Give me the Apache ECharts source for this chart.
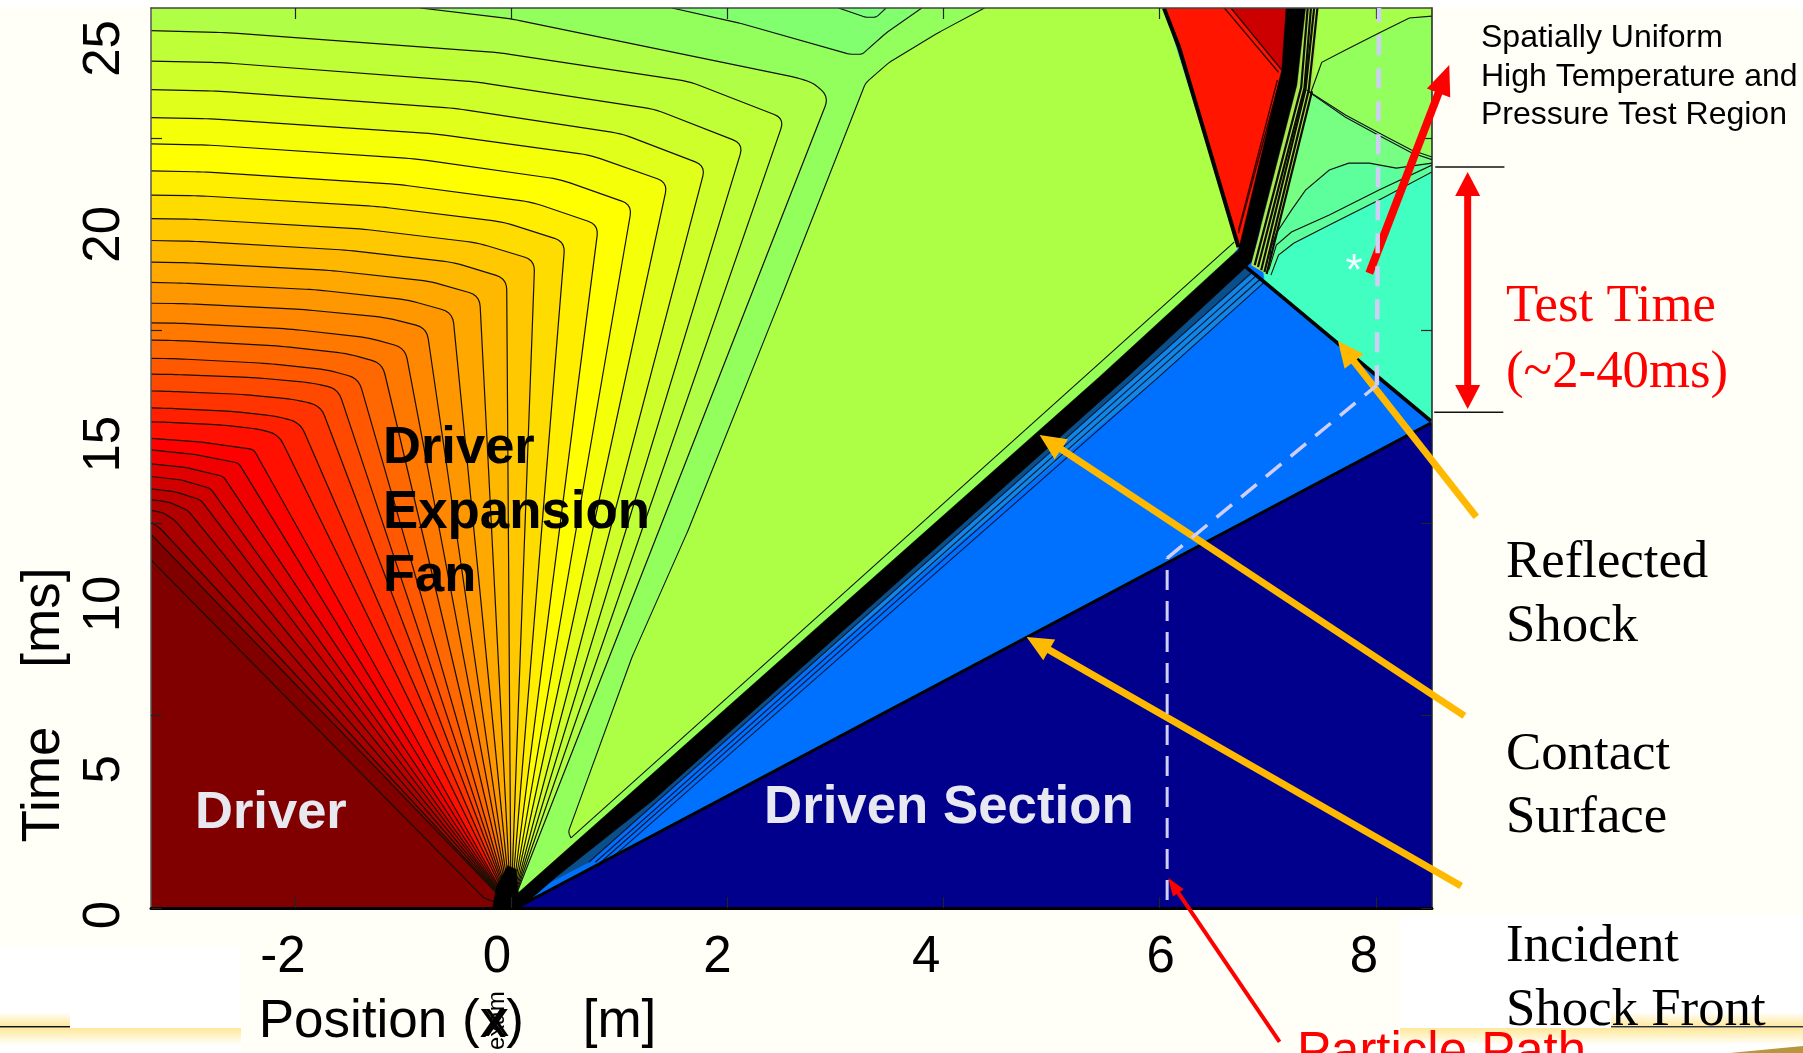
<!DOCTYPE html>
<html><head><meta charset="utf-8">
<style>html,body{margin:0;padding:0;background:#fff}#c{width:1803px;height:1053px}</style>
<script src="https://cdn.jsdelivr.net/npm/echarts@6/dist/echarts.min.js"></script>
</head><body><div id="c"></div>
<script>
// ---- axes ----
const xMin=-3.33, xMax=8.52, tMin=0, tMax=23.38;
const xTicks=[-2,0,2,4,6,8];
const tTicks=[0,5,10,15,20];
const xTickLabels=['-2','0','2','4','6','8'];
const xLabelAt=[-2.11,-0.13,1.91,3.84,6.01,7.89];
const tTickLabels=['0 ','5','10','15','20','25'];
const tLabelAt=[0,3.6,7.9,12.05,17.5,22.33];

// ---- expansion fan contours, [position, time], from the left wall to the corner (rays then run to the origin) ----
const fanOrigin=[0,0];
const fanContours=[
[[-3.33,22.79],[-2.63,22.74],[-0.11,22.22],[1.65,21.47],[2.53,20.51]],
[[-3.33,22.00],[-2.67,21.96],[-0.32,21.46],[1.33,20.75],[2.15,19.85]],
[[-3.33,21.26],[-2.71,21.22],[-0.51,20.77],[1.03,20.11],[1.80,19.28]],
[[-3.33,20.53],[-2.76,20.50],[-0.70,20.11],[0.73,19.56],[1.45,18.85]],
[[-3.33,19.85],[-2.80,19.82],[-0.88,19.46],[0.45,18.93],[1.12,18.27]],
[[-3.33,19.15],[-2.83,19.12],[-1.05,18.80],[0.19,18.34],[0.81,17.75]],
[[-3.33,18.52],[-2.87,18.50],[-1.22,18.22],[-0.07,17.82],[0.50,17.31]],
[[-3.33,17.91],[-2.90,17.89],[-1.38,17.64],[-0.31,17.28],[0.22,16.83]],
[[-3.33,17.34],[-2.93,17.32],[-1.52,17.09],[-0.53,16.77],[-0.04,16.35]],
[[-3.33,16.78],[-2.97,16.76],[-1.66,16.56],[-0.75,16.28],[-0.29,15.91]],
[[-3.33,16.25],[-3.00,16.23],[-1.80,16.06],[-0.96,15.80],[-0.54,15.47]],
[[-3.33,15.71],[-3.02,15.70],[-1.93,15.55],[-1.16,15.34],[-0.78,15.07]],
[[-3.33,15.20],[-3.05,15.19],[-2.04,15.04],[-1.33,14.82],[-0.98,14.55]],
[[-3.33,14.75],[-3.07,14.74],[-2.15,14.60],[-1.51,14.40],[-1.19,14.15]],
[[-3.33,14.28],[-3.10,14.27],[-2.27,14.15],[-1.70,13.98],[-1.41,13.76]],
[[-3.33,13.87],[-3.12,13.86],[-2.38,13.78],[-1.86,13.65],[-1.60,13.49]],
[[-3.33,13.43],[-3.14,13.42],[-2.47,13.34],[-2.00,13.21],[-1.76,13.05]],
[[-3.33,12.99],[-3.16,12.98],[-2.57,12.90],[-2.16,12.77],[-1.95,12.61]],
[[-3.33,12.63],[-3.19,12.62],[-2.68,12.55],[-2.33,12.44],[-2.15,12.30]],
[[-3.33,12.20],[-2.85,12.10],[-2.38,11.91]],
[[-3.33,11.90],[-2.92,11.78],[-2.52,11.56]],
[[-3.33,11.54],[-3.00,11.44],[-2.66,11.21]],
[[-3.33,11.21],[-3.05,11.12],[-2.78,10.90]],
[[-3.33,10.89],[-3.10,10.81],[-2.87,10.60]],
[[-3.33,10.61],[-3.16,10.54],[-2.99,10.33]],
[[-3.33,10.33],[-3.22,10.27],[-3.11,10.07]],
[[-3.33,10.03],[-3.24,9.85]],
[[-3.33,9.71],[-3.19,9.30]],
[[-3.33,9.04],[-0.25,0.26]]
];
const fanColors=['#B0FF46','#BEFF38','#CEFF2A','#E0FF1A','#F5FF08','#FFFF00','#FFEE00','#FFDC00','#FFC800','#FFB800','#FFA800','#FF9800','#FF8800','#FF7800','#FF6800','#FF5800','#FF4800','#FF3400','#FF2000','#FF1000','#FF0000','#F00000','#E00000','#D00000','#C00000','#B00000','#A80000','#980000','#800000'];
const outerContour=[[-0.84,23.38],[0,23.10],[2.66,21.56],[2.80,21.43],[2.94,21.07]];
const fanEdgeUpper=[[4.38,23.38],[3.96,22.75],[3.50,21.97],[3.28,21.43],[2.49,15.79],[1.64,9.82],[1.12,6.52],[0.53,1.97],[0.555,1.82]];
const fanEdgeLower=[[0.555,1.82],[3.006,8.00],[6.69,17.30]];
const topContour=[[1.49,23.38],[2.11,22.99],[3.13,22.18],[3.25,22.18],[3.47,22.73],[3.80,23.38]];
const topPocket=[[3.03,23.38],[3.28,23.14],[3.38,23.14],[3.47,23.38]];

// ---- wave lines ----
const shockFront=[[0.046,0],[8.51,12.60]];
const reflectedShock=[[6.80,16.65],[6.97,16.26],[8.51,12.65]];
const contactBand=[[0.07,0.40],[5.44,13.79],[6.67,16.96],[6.80,16.65],[5.70,13.79],[1.32,2.81],[0.42,0.81],[0.19,0.25],[0.07,0],[-0.17,0],[-0.13,0.6],[-0.03,1.1],[0.05,1.0],[0.06,0.5]];
const contactUpper=[[7.17,23.38],[7.35,23.38],[7.27,21.38],[6.85,16.78],[6.80,16.65],[6.67,16.96],[6.73,17.09],[7.13,21.77]];
const blueStripe=[[0.47,0.91],[5.99,13.79],[6.97,16.26],[6.80,16.65],[0.19,0.42]];
const stippleBand=[[0.19,0.42],[0.72,1.19],[5.77,13.79],[6.86,16.52],[6.80,16.65]];
const stripeLines=[
[[0.72,1.19],[5.77,13.79],[6.86,16.52]],
[[0.78,1.19],[5.84,13.79],[6.90,16.44]],
[[0.83,1.19],[5.91,13.79],[6.94,16.36]],
[[0.91,1.25],[5.99,13.79],[6.97,16.26]]
];
// ---- reflected region ----
const redEdge=[[6.04,23.38],[6.18,22.36],[6.71,17.35],[6.73,17.17]];
const redRegion=[[6.04,23.38],[6.18,22.36],[6.71,17.35],[6.73,17.17],[6.75,17.14],[7.13,21.77],[7.17,23.38]];
const darkRedRegion=[[6.66,23.38],[7.17,23.38],[7.13,21.77]];
const redLines=[[[6.66,23.38],[7.13,21.77]],[[6.60,23.38],[7.10,21.71]],[[7.12,21.58],[6.73,17.53]],[[7.09,21.51],[6.73,17.61]]];
const testRegion=[[6.97,16.26],[8.52,12.65],[8.52,23.38],[6.80,23.38]];
const upperZone=[[7.35,23.38],[8.52,23.38],[8.52,19.51],[8.33,19.69],[8.03,20.13],[7.72,20.60],[7.36,21.25],[7.27,21.38]];
const cornerZone=[[7.45,23.38],[8.52,23.38],[8.52,23.17],[8.31,23.12],[8.03,22.73],[7.72,22.29],[7.50,21.97],[7.45,21.58],[7.40,21.19]];
const cornerLine=[[8.52,23.17],[8.31,23.12],[8.03,22.73],[7.72,22.29],[7.50,21.97],[7.45,21.58],[7.40,21.19]];
const splitLineA=[[7.36,21.25],[7.72,20.60],[8.03,20.13],[8.33,19.69],[8.52,19.51]];
const splitLineB=[[7.38,21.20],[7.72,20.54],[8.03,20.07],[8.33,19.62],[8.52,19.44]];
const zoneLineA=[[8.52,19.35],[8.19,19.22],[7.94,19.35],[7.75,19.35],[7.57,19.17],[7.35,18.65],[7.22,18.13],[7.08,17.53],[7.03,17.14],[7.01,16.65]];
const zoneLineB=[[8.52,19.30],[8.03,18.65],[7.57,18.00],[7.22,17.56],[7.08,17.22],[7.01,16.57]];
const zoneLineC=[[8.52,19.12],[8.03,18.39],[7.57,17.74],[7.24,17.27],[7.10,16.96],[7.03,16.44]];
const paleStripe=[[7.35,23.38],[7.47,23.38],[7.41,21.22],[6.99,16.47],[6.85,16.70],[7.27,21.38]];
const paleLines=[
[[7.37,23.38],[7.31,21.32],[6.88,16.70]],
[[7.40,23.38],[7.34,21.30],[6.91,16.65]],
[[7.43,23.38],[7.35,21.27],[6.94,16.57]],
[[7.46,23.38],[7.38,21.25],[6.97,16.52]],
[[7.41,21.22],[6.99,16.47]]
];
// ---- annotations ----
const reflectedArrow=[[8.93,10.16],[7.65,14.73]];
const contactArrow=[[8.82,4.99],[4.89,12.29]];
const incidentArrow=[[8.79,0.57],[4.77,7.04]];
const particleArrow=[[7.11,-3.48],[6.08,0.78]];
const regionArrow=[[7.94,16.49],[8.68,21.90]];
const testTimeArrow=[[8.85,19.12],[8.85,12.96]];
const testTimeTop=[[8.55,19.25],[9.19,19.25]];
const testTimeBottom=[[8.54,12.88],[9.18,12.88]];
const pathLow=[[6.07,0.21],[6.07,9.09]];
const pathMid=[[6.07,9.09],[8.01,13.58]];
const pathHigh=[[8.01,13.58],[8.03,23.38]];
const samplePoint=[7.80,16.57];

// ---- build the drawing list ----
const shapes=[];
const fill=(pts,color,close,r)=>shapes.push({pts,fill:color,close:close||[],r:r||0});
const line=(pts,w,color,r,dash)=>shapes.push({pts,stroke:color||'#111',w:w||1,r:r||0,dash});
const BL=[xMin,0],TL=[xMin,tMax];
fill([[xMin,0],[xMax,0],[xMax,tMax],[xMin,tMax]],'#00008C');
fill([[0.046,0],[8.52,12.60],[8.52,tMax],[xMin,tMax],[xMin,0]],'#0070FF');
fill(blueStripe,'#1286E4');
fill(stippleBand,'#0B4F8A');
stripeLines.forEach(l=>line(l,1.2,'#041a3e'));
fill(testRegion,'#40FFC0');
fill(upperZone,'#92FF5C');
fill(cornerZone,'#A6FF4A');
fill(splitLineA.concat([[8.52,19.35],[8.19,19.22],[7.94,19.35],[7.75,19.35],[7.57,19.17],[7.35,18.65],[7.22,18.13],[7.08,17.53],[7.03,17.14],[7.01,16.65],[6.85,16.78]]),'#76FF82');
fill(zoneLineA.concat(zoneLineC.slice().reverse()),'#5CFF9C');
fill([[0.06,0.3],[5.44,13.79],[6.67,16.96],[6.73,17.17],[6.04,23.38],[xMin,tMax],[xMin,0]],'#ADFF45');
fill(fanEdgeLower.concat([[6.67,16.96],[5.44,13.79],[0.07,0.4]]),'#96FF55');
fill(redRegion,'#FF1500');
fill(darkRedRegion,'#CC0000');
redLines.forEach(l=>line(l,1.3,'#300'));
fill(paleStripe,'#AEE850');
paleLines.forEach(l=>line(l,2.2,'#0c0c00'));
line(cornerLine,1.1);line(splitLineA,1.1);line(splitLineB,1.1);
line(zoneLineA,1.1);line(zoneLineB,1.1);line(zoneLineC,1.1);

// fan, outermost first
fill(fanEdgeUpper.concat([[0.07,0.4],fanOrigin,BL,TL]),'#92FF5C',[],0);
fill(topContour,'#82FF6E');
fill(topPocket,'#7AFF78');
fill(outerContour.concat([fanOrigin]),fanColors[0],[BL,TL],10);
fanContours.forEach((c,i)=>fill(c.concat([fanOrigin]),fanColors[i+1]||'#800000',[BL],i<19?11:4));
line(topContour,1.1,'#111',3);line(topPocket,1.1,'#111',3);
line(outerContour.concat([fanOrigin]),1.2,'#111',10);
fanContours.forEach((c,i)=>line(c.concat([fanOrigin]),1.2,'#151005',i<19?11:4));
line(fanEdgeUpper,1.1,'#111',4);line(fanEdgeLower,1.1,'#111');
fill(contactBand,'#000');
fill(contactUpper,'#000');
line(shockFront,3,'#000');
line(reflectedShock,3.6,'#000');
line(redEdge,4,'#000');

function rounded(p,r){
  if(!r||p.length<3)return p;
  const out=[p[0]];
  for(let i=1;i<p.length-1;i++){
    const A=p[i],B=p[i-1],C=p[i+1];
    const d1=Math.hypot(A[0]-B[0],A[1]-B[1]),d2=Math.hypot(A[0]-C[0],A[1]-C[1]);
    const rr=Math.min(r,d1/2,d2/2);
    const a=[A[0]+(B[0]-A[0])/d1*rr,A[1]+(B[1]-A[1])/d1*rr],b=[A[0]+(C[0]-A[0])/d2*rr,A[1]+(C[1]-A[1])/d2*rr];
    for(let k=0;k<=5;k++){const s=k/5,q=1-s;out.push([q*q*a[0]+2*q*s*A[0]+s*s*b[0],q*q*a[1]+2*q*s*A[1]+s*s*b[1]]);}
  }
  out.push(p[p.length-1]);return out;
}
function renderShape(params,api){
  const s=shapes[api.value(0)];
  const pts=rounded(s.pts.map(p=>api.coord(p)),s.r);
  if(s.fill){
    const all=pts.concat(s.close.map(p=>api.coord(p)));
    return {type:'polygon',z2:api.value(0),silent:true,shape:{points:all},style:{fill:s.fill,stroke:s.fill,lineWidth:0.5}};
  }
  return {type:'polyline',z2:api.value(0),silent:true,shape:{points:pts},style:{fill:null,stroke:s.stroke,lineWidth:s.w,lineDash:s.dash||null}};
}
const arrows=[
 {pts:reflectedArrow,color:'#FFB900',w:7,hl:26,hw:24},
 {pts:contactArrow,color:'#FFB900',w:7,hl:26,hw:24},
 {pts:incidentArrow,color:'#FFB900',w:7,hl:26,hw:24},
 {pts:particleArrow,color:'#FF0000',w:4,hl:18,hw:13},
 {pts:regionArrow,color:'#FF0000',w:8,hl:30,hw:25},
 {pts:testTimeArrow,color:'#FF0000',w:7,hl:24,hw:25,both:true},
 {pts:testTimeTop,color:'#111',w:1.6,line:true},
 {pts:testTimeBottom,color:'#111',w:1.6,line:true},
 {pts:pathLow,color:'#CFCFF5',w:3,dash:[20,11]},
 {pts:pathMid,color:'#CFCFF5',w:3.5,dash:[20,12]},
 {pts:pathHigh,color:'#CFCFF5',w:4.5,dash:[20,13]}
];
function head(tip,from,l,w,color){
  const d=Math.hypot(tip[0]-from[0],tip[1]-from[1]),ux=(tip[0]-from[0])/d,uy=(tip[1]-from[1])/d;
  const bx=tip[0]-ux*l,by=tip[1]-uy*l;
  return {type:'polygon',shape:{points:[tip,[bx-uy*w/2,by+ux*w/2],[bx+uy*w/2,by-ux*w/2]]},style:{fill:color}};
}
function renderArrow(params,api){
  const a=arrows[api.value(0)];
  const A=api.coord(a.pts[0]),B=api.coord(a.pts[1]);
  const kids=[];
  const d=Math.hypot(B[0]-A[0],B[1]-A[1]),ux=(B[0]-A[0])/d,uy=(B[1]-A[1])/d;
  const end=a.hl?[B[0]-ux*a.hl*0.8,B[1]-uy*a.hl*0.8]:B;
  const st=a.both?[A[0]+ux*a.hl*0.8,A[1]+uy*a.hl*0.8]:A;
  kids.push({type:'line',shape:{x1:st[0],y1:st[1],x2:end[0],y2:end[1]},style:{stroke:a.color,lineWidth:a.w,lineDash:a.dash||null}});
  if(a.hl){kids.push(head(B,A,a.hl,a.hw,a.color));if(a.both)kids.push(head(A,B,a.hl,a.hw,a.color));}
  return {type:'group',silent:true,children:kids};
}
const T=(text,x,y,size,fam,color,weight,extra)=>Object.assign({type:'text',z:100,silent:true,x,y,style:{text,fontFamily:fam,fontSize:size,fill:color,fontWeight:weight||'normal',textVerticalAlign:'middle',verticalAlign:'middle'}},extra||{});
const SANS='"Liberation Sans"',SERIF='"Liberation Serif"';
const grad=(a,b)=>new echarts.graphic.LinearGradient(0,0,0,1,[{offset:0,color:a},{offset:1,color:b}]);
const rect=(x,y,w,h,f,z)=>({type:'rect',z:z===undefined?-5:z,silent:true,shape:{x,y,width:w,height:h},style:{fill:f}});
const chart=echarts.init(document.getElementById('c'),null,{renderer:'canvas'});
const axisBase={type:'value',z:10,splitLine:{show:false},axisLine:{show:true,onZero:false},axisLabel:{show:false}};
const tickStyle=(vals)=>({show:true,inside:true,length:11,customValues:vals,lineStyle:{color:'#222',width:1.2}});
chart.setOption({
 animation:false,
 backgroundColor:'#FFFFF8',
 grid:{left:151,right:371,top:8,bottom:145,containLabel:false,outerBoundsMode:'none'},
 xAxis:[
  Object.assign({},axisBase,{position:'bottom',min:xMin,max:xMax,
    name:'Position (x)    [m]',nameLocation:'middle',nameGap:88,
    nameTextStyle:{fontFamily:SANS,fontSize:53,color:'#000',padding:[0,668,0,0]},
    axisLine:{show:true,onZero:false,lineStyle:{color:'#000',width:3}},axisTick:tickStyle(xTicks),
    axisLabel:{show:true,customValues:xLabelAt,margin:24,fontFamily:SANS,fontSize:51,color:'#000',formatter:(v,i)=>xTickLabels[xLabelAt.indexOf(v)]}}),
  Object.assign({},axisBase,{position:'top',min:xMin,max:xMax,axisLine:{show:true,onZero:false,lineStyle:{color:'#444',width:1.5}},axisTick:tickStyle(xTicks)})
 ],
 yAxis:[
  Object.assign({},axisBase,{position:'left',min:tMin,max:tMax,
    name:'Time    [ms]',nameLocation:'middle',nameGap:79,
    nameTextStyle:{fontFamily:SANS,fontSize:53,color:'#000',padding:[0,494,0,0]},
    axisLine:{show:true,onZero:false,lineStyle:{color:'#555',width:1.5}},axisTick:tickStyle(tTicks),
    axisLabel:{show:true,customValues:tLabelAt,rotate:90,margin:21,fontFamily:SANS,fontSize:51,color:'#000',formatter:(v)=>tTickLabels[tLabelAt.indexOf(v)]}}),
  Object.assign({},axisBase,{position:'right',min:tMin,max:tMax,axisLine:{show:true,onZero:false,lineStyle:{color:'#222',width:1.5}},axisTick:tickStyle(tTicks)})
 ],
 series:[
  {type:'custom',coordinateSystem:'cartesian2d',xAxisIndex:0,yAxisIndex:0,clip:true,silent:true,z:2,renderItem:renderShape,data:shapes.map((_,i)=>[i])},
  {type:'custom',coordinateSystem:'cartesian2d',xAxisIndex:0,yAxisIndex:0,clip:false,silent:true,z:20,renderItem:renderArrow,data:arrows.map((_,i)=>[i])},
  {type:'custom',coordinateSystem:'cartesian2d',xAxisIndex:0,yAxisIndex:0,clip:false,silent:true,z:21,
   renderItem:(p,api)=>{const c=api.coord(samplePoint);return {type:'text',x:c[0],y:c[1]+3,style:{text:'*',fontFamily:SANS,fontSize:44,fill:'#EFFFFF',align:'center',verticalAlign:'middle'}};},data:[[0]]}
 ],
 graphic:{elements:[
  rect(0,0,1803,8,'#FFFFFF'),
  rect(0,947,241,106,'#FFFFFF'),
  rect(1400,916,403,137,'#FFFFFF'),
  rect(0,1012,70,15,grad('#FFFFFF','#FFE898'),-4),
  rect(0,1026,70,1.5,'#111',-3),
  rect(0,1028,241,17,grad('#FFE898','#FFFFFF'),-4),
  rect(1400,1028,403,17,grad('#FFE898','#FFFFFF'),-4),
  rect(1611,1012,192,15,grad('#FFFFFF','#FFE898'),-4),
  rect(1611,1026,192,1.5,'#333',-3),
  {type:'polygon',z:-3,silent:true,shape:{points:[[1730,1053],[1803,1046],[1803,1053]]},style:{fill:'#B8963C'}},
  T('Driver',195,814,52.5,SANS,'#E8E8F0','bold'),
  T('Driven Section',764,808,52.8,SANS,'#E8E8F0','bold'),
  T('Driver',383,449,52.5,SANS,'#000','bold'),
  T('Expansion',383,513,52.8,SANS,'#000','bold'),
  T('Fan',383,577,52.5,SANS,'#000','bold'),
  T('Spatially Uniform',1481,38,32,SANS,'#000'),
  T('High Temperature and',1481,77,32,SANS,'#000'),
  T('Pressure Test Region',1481,115,32,SANS,'#000'),
  T('Test Time',1506,307,52.8,SERIF,'#FF0000'),
  T('(~2-40ms)',1506,373,52.8,SERIF,'#FF0000'),
  T('Reflected',1506,563,52.8,SERIF,'#000'),
  T('Shock',1506,627,52.8,SERIF,'#000'),
  T('Contact',1506,755,52.8,SERIF,'#000'),
  T('Surface',1506,818,52.8,SERIF,'#000'),
  T('Incident',1506,947,52.8,SERIF,'#000'),
  T('Shock Front',1506,1011,52.8,SERIF,'#000'),
  T('Particle Path',1297,1054,51,SANS,'#FF0000'),
  T('exam',497,1050,24,SANS,'#000','normal',{rotation:Math.PI/2}),
  T('X',484,1026,38,SANS,'#000')
 ]}
});
</script></body></html>
